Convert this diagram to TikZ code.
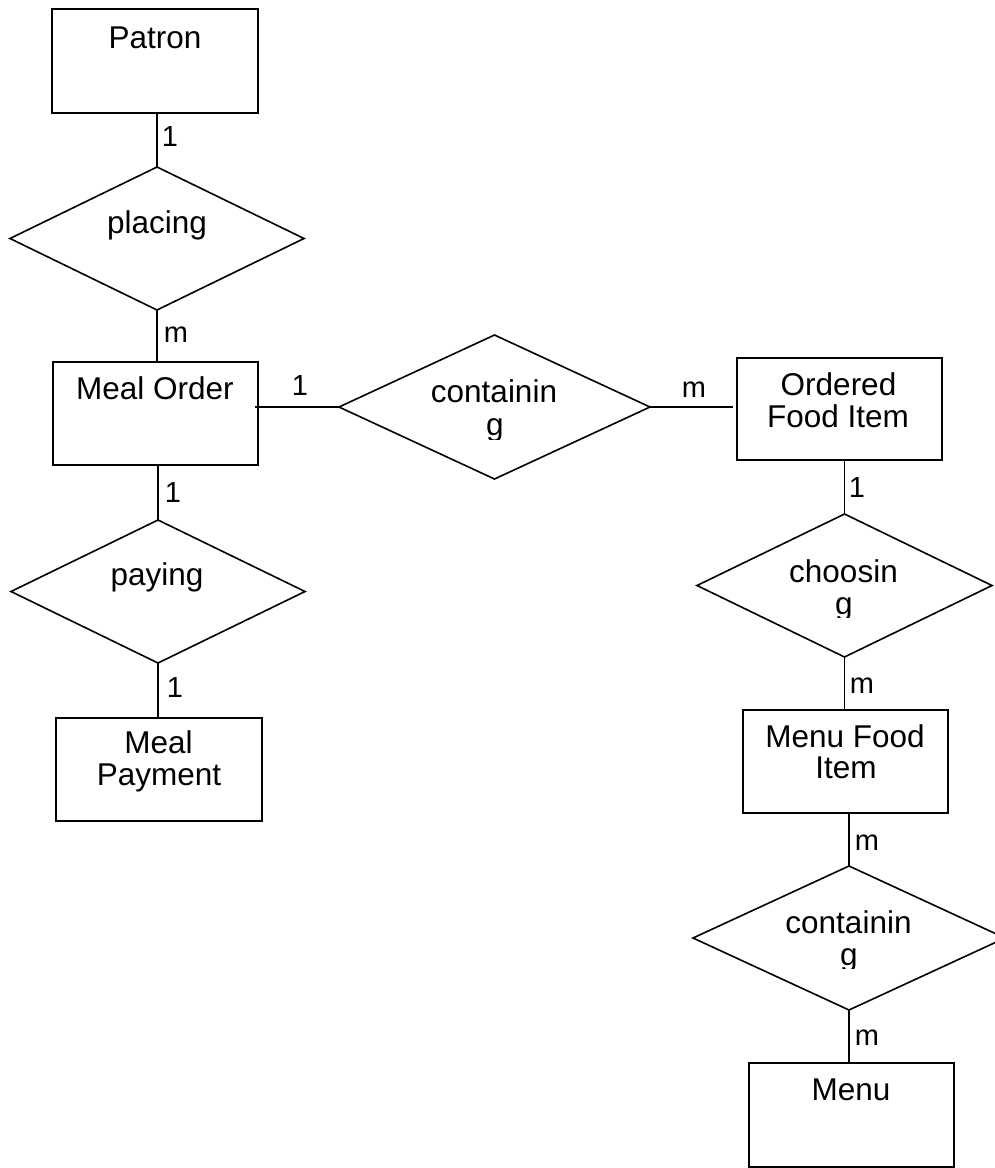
\documentclass[tikz,border=0pt]{standalone}
\usepackage{fontspec}
\setmainfont{Liberation Sans}
\usetikzlibrary{shapes.geometric}
\begin{document}
\begin{tikzpicture}[x=1pt,y=-1pt,
  ent/.style={draw, line width=1.6pt, rectangle, inner sep=0pt, outer sep=0pt},
  rel/.style={draw, line width=1.6pt, diamond, inner sep=0pt, outer sep=0pt},
  txt/.style={anchor=base, inner sep=0pt, font=\fontsize{31.5}{32}\selectfont},
  card/.style={anchor=base, inner sep=0pt, font=\fontsize{29}{30}\selectfont},
  conn/.style={line width=1.6pt},
]
\useasboundingbox (0,0) rectangle (995,1168);

% entities
\node[ent, minimum width=206pt, minimum height=104pt] (patron) at (155,61) {};
\node[ent, minimum width=205pt, minimum height=103pt] (mealorder) at (155.5,413.5) {};
\node[ent, minimum width=206pt, minimum height=103pt] (mealpay) at (159,769.5) {};
\node[ent, minimum width=205pt, minimum height=102pt] (ofi) at (839.5,409) {};
\node[ent, minimum width=205pt, minimum height=103pt] (mfi) at (845.5,761.5) {};
\node[ent, minimum width=205pt, minimum height=104pt] (menu) at (851.5,1115) {};

% relationships
\node[rel, minimum width=294pt, minimum height=143pt] (placing) at (157,238.5) {};
\node[rel, minimum width=311pt, minimum height=144pt] (containA) at (494.5,407) {};
\node[rel, minimum width=294pt, minimum height=143pt] (paying) at (158,591.5) {};
\node[rel, minimum width=295pt, minimum height=143pt] (choosing) at (844.5,585.5) {};
\node[rel, minimum width=312pt, minimum height=144pt] (containB) at (849,938) {};

% texts
\node[txt] (tpatron) at (155,48) {Patron};
\node[txt] (tplacing) at (157,233) {placing};
\node[txt] (tmealorder) at (155,399) {Meal Order};
\node[txt] (tcontA1) at (494,402) {containin};
\begin{scope}
  \clip (470,405) rectangle (520,439);
  \node[txt] (tcontA2) at (495,435) {g};
\end{scope}
\node[txt] (tpaying) at (157,585) {paying};
\node[txt] (tmeal) at (158.5,753) {Meal};
\node[txt] (tpayment) at (159,785) {Payment};
\node[txt] (tordered) at (838.5,395) {Ordered};
\node[txt] (tfooditem) at (838,427) {Food Item};
\node[txt] (tchoos1) at (843.5,582) {choosin};
\begin{scope}
  \clip (820,585) rectangle (870,617);
  \node[txt] (tchoos2) at (844,614) {g};
\end{scope}
\node[txt] (tmenufood) at (845,747) {Menu Food};
\node[txt] (titem) at (846,778) {Item};
\node[txt] (tcontB1) at (848.5,933) {containin};
\begin{scope}
  \clip (825,936) rectangle (875,968);
  \node[txt] (tcontB2) at (849,965) {g};
\end{scope}
\node[txt] (tmenu) at (851,1100) {Menu};

% connectors
\draw[conn] (placing.north |- patron.south) -- (placing.north);
\draw[conn] (placing.south) -- (placing.south |- mealorder.north);
\draw[conn] ([xshift=-3pt]mealorder.east |- containA.west) -- (containA.west);
\draw[conn, shorten >=4pt] (containA.east) -- (containA.east -| ofi.west);
\draw[conn] (paying.north |- mealorder.south) -- (paying.north);
\draw[conn] (paying.south) -- (paying.south |- mealpay.north);
\draw[conn] (choosing.north |- ofi.south) -- (choosing.north);
\draw[conn] (choosing.south) -- (choosing.south |- mfi.north);
\draw[conn] (containB.north |- mfi.south) -- (containB.north);
\draw[conn] (containB.south) -- (containB.south |- menu.north);

% cardinalities
\node[card] (c1) at (170,146) {1};
\node[card] (c2) at (176,342) {m};
\node[card] (c3) at (300,395) {1};
\node[card] (c4) at (694,397) {m};
\node[card] (c5) at (173,502) {1};
\node[card] (c6) at (175,697) {1};
\node[card] (c7) at (857,497) {1};
\node[card] (c8) at (862,693) {m};
\node[card] (c9) at (867,850) {m};
\node[card] (c10) at (867,1045) {m};
\end{tikzpicture}
\end{document}
